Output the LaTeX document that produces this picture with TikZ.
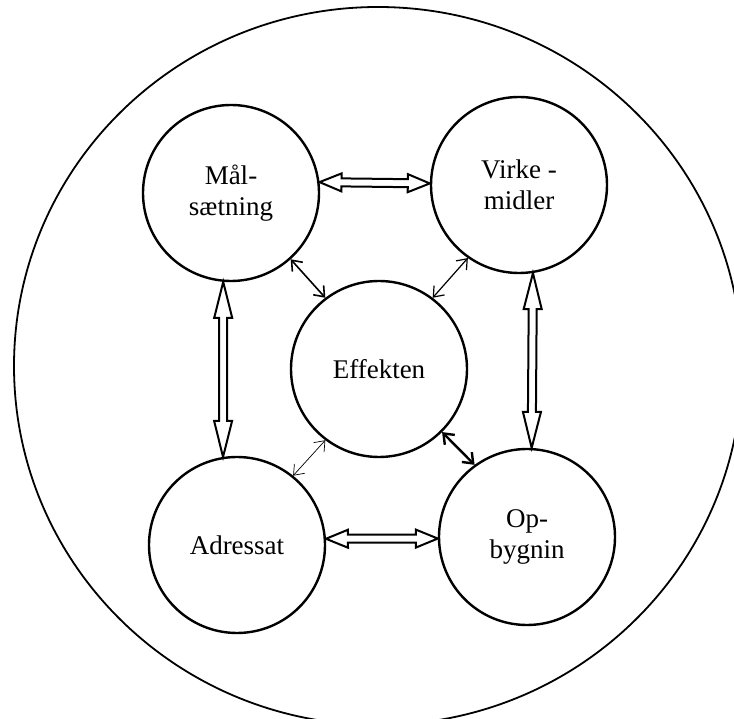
\documentclass[tikz,border=0pt]{standalone}
\usepackage{fontspec}
\setmainfont{Liberation Serif}
\usepackage{tikz}
\usetikzlibrary{arrows.meta,calc,positioning}
\tikzset{%
  >={Straight Barb[length=4.5pt,width=7pt]},
       circ/.style = {circle, draw=black, line width=1.2pt, minimum size=88pt,
                      inner sep=0pt, align=center,
                      font=\fontsize{13.5}{15.5}\selectfont},
     hollow/.style = {draw=black, line width=1pt, line join=miter, fill=white},
      frame/.style = {draw=black, line width=0.9pt},
}
% hollow double arrow from #1 to #2, head length #3
\newcommand{\hollowarrow}[3]{%
  \draw[hollow] (#1)
    -- ($(#1)!#3!(#2)!4.5pt!90:(#2)$) -- ($(#1)!#3!(#2)!2pt!90:(#2)$)
    -- ($(#2)!#3!(#1)!2pt!-90:(#1)$)  -- ($(#2)!#3!(#1)!4.5pt!-90:(#1)$)
    -- (#2)
    -- ($(#2)!#3!(#1)!4.5pt!90:(#1)$) -- ($(#2)!#3!(#1)!2pt!90:(#1)$)
    -- ($(#1)!#3!(#2)!2pt!-90:(#2)$)  -- ($(#1)!#3!(#2)!4.5pt!-90:(#2)$)
    -- cycle;}

\begin{document}
\begin{tikzpicture}[node distance=88pt]
  \useasboundingbox (0,0) rectangle (367pt,359pt);
  \clip (0,0) rectangle (367pt,359pt);

  \draw[frame] (189pt,176pt) ellipse [x radius=182pt, y radius=179.5pt];

  \node (eff)   [circ] at (189.5pt,174.5pt)                 {Effekten};
  \node (mal)   [circ, above of=eff, xshift=-74pt]            {Mål-\\sætning};
  \node (virke) [circ, above of=eff, xshift= 70pt, yshift=4pt] {Virke -\\midler};
  \node (adr)   [circ, below of=eff, xshift=-71pt]            {Adressat};
  \node (op)    [circ, below of=eff, xshift= 74pt, yshift=4pt] {Op-\\bygnin};

  \hollowarrow{mal.7}{virke.179}{11pt}
  \hollowarrow{mal.-95}{adr.99}{18pt}
  \hollowarrow{virke.-81}{op.87}{18pt}
  \hollowarrow{adr.4}{op.181}{11pt}

  \draw[<->, line width=0.8pt]  (mal.-48)    -- (eff.127);
  \draw[<->, line width=0.6pt]  (virke.-125) -- (eff.53);
  \draw[<->, line width=0.35pt] (adr.51)     -- (eff.-127);
  \draw[<->, line width=1.2pt]  (eff.-45)    -- (op.126);
\end{tikzpicture}
\end{document}
